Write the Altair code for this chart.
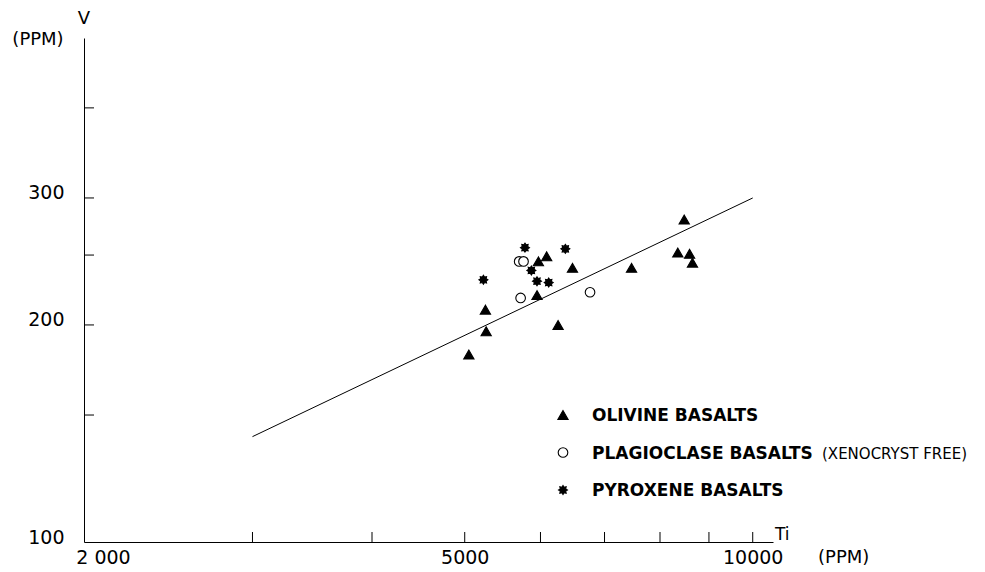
import math
import altair as alt
import pandas as pd

# ---------------- data ----------------
types = ["OLIVINE BASALTS", "PLAGIOCLASE BASALTS", "PYROXENE BASALTS"]
note_text = "(XENOCRYST FREE)"

ti_olivine = [8480, 6090, 5970, 6480, 7470, 8350, 8590, 8650, 5950, 5255, 5265, 6260, 5050]
v_olivine = [280, 249, 245, 240, 240, 252, 251, 244, 220, 210, 196, 200, 182]

ti_plag = [5700, 5760, 5720, 6760]
v_plag = [245, 245, 218, 222]

ti_pyx = [5780, 6370, 5870, 5950, 6120, 5230]
v_pyx = [256, 255, 238, 230, 229, 231]

line_ti = [3000, 10000]
line_v = [140, 300]

x_tick_values = [3000, 4000, 5000, 6000, 7000, 8000, 9000, 10000]
y_tick_values = [150, 200, 250, 300, 400]
x_label_values = [2000, 5000, 10000]
y_label_values = [100, 200, 300]

x_name = "Ti"
y_name = "V"
unit = "(PPM)"

# ---------------- tables ----------------
rows = []
for t, v in zip(ti_olivine, v_olivine):
    rows.append({"ti": t, "v": v, "type": types[0]})
for t, v in zip(ti_plag, v_plag):
    rows.append({"ti": t, "v": v, "type": types[1]})
for t, v in zip(ti_pyx, v_pyx):
    rows.append({"ti": t, "v": v, "type": types[2]})
pts = pd.DataFrame(rows)
line_df = pd.DataFrame({"ti": line_ti, "v": line_v})
xt_df = pd.DataFrame({"ti": x_tick_values})
yt_df = pd.DataFrame({"v": y_tick_values})
leg_df = pd.DataFrame({"type": types})
note_df = pd.DataFrame({"type": [types[1]], "note": [note_text]})

# 8-pointed star symbol path
star_pts = []
for i in range(16):
    a = i * math.pi / 8 - math.pi / 2
    r = 1.0 if i % 2 == 0 else 0.66
    star_pts.append(f"{r*math.cos(a):.3f},{r*math.sin(a):.3f}")
star_path = "M" + " L".join(star_pts) + " Z"

W, H = 689, 504
NUM_FONT = "DejaVu Sans"

xs = alt.Scale(type="log", domain=[2000, 10500], nice=False, zero=False)
ys = alt.Scale(type="log", domain=[100, 500], nice=False, zero=False)

x_axis = alt.Axis(
    values=x_label_values, title=None, grid=False, ticks=False, tickSize=0,
    domainColor="black", domainWidth=1, labelFont=NUM_FONT, labelFontSize=19,
    labelColor="black", labelPadding=6, labelFlush=False, labelOverlap=False,
    labelExpr="datum.value == 2000 ? '2 000' : format(datum.value, 'd')",
    labelOffset={"condition": {"test": "datum.value == 2000", "value": 19}, "value": 0},
)
y_axis = alt.Axis(
    values=y_label_values, title=None, grid=False, ticks=False, tickSize=0,
    domainColor="black", domainWidth=1, labelFont=NUM_FONT, labelFontSize=19,
    labelColor="black", labelPadding=20, labelFlush=False, labelOverlap=False,
    format="d", labelOffset=-5,
)

X = lambda: alt.X("ti:Q", scale=xs, axis=x_axis)
Y = lambda: alt.Y("v:Q", scale=ys, axis=y_axis)

shape_enc = lambda: alt.Shape("type:N", scale=alt.Scale(domain=types, range=["triangle-up", "circle", star_path]), legend=None)
fill_enc = lambda: alt.Fill("type:N", scale=alt.Scale(domain=types, range=["black", "white", "black"]), legend=None)
size_enc = lambda: alt.Size("type:N", scale=alt.Scale(domain=types, range=[105, 80, 300]), legend=None)

points = alt.Chart(pts).mark_point(filled=True, opacity=1, strokeWidth=1.1, stroke="black").encode(
    x=X(), y=Y(), shape=shape_enc(), fill=fill_enc(), size=size_enc(),
)

fit_line = alt.Chart(line_df).mark_line(color="black", strokeWidth=1).encode(x=X(), y=Y())

x_ticks = alt.Chart(xt_df).mark_rule(color="black", strokeWidth=1).encode(
    x=X(), y=alt.value(H), y2=alt.value(H - 10)
)
y_ticks = alt.Chart(yt_df).mark_rule(color="black", strokeWidth=1).encode(
    y=Y(), x=alt.value(0), x2=alt.value(10)
)

def label(text, x, y, size, align="left", weight="normal"):
    return alt.Chart(pd.DataFrame({"t": [text]})).mark_text(
        font=NUM_FONT, fontSize=size, fontWeight=weight, color="black",
        align=align, baseline="middle",
    ).encode(text="t:N", x=alt.value(x), y=alt.value(y))

texts = [
    label(y_name, 0, -19, 18, "center"),
    label(unit, -46, 2, 18, "center"),
    label(x_name, 691, 497, 17, "left"),
    label(unit, 734, 520, 18, "left"),
]

main = alt.layer(fit_line, x_ticks, y_ticks, points, *texts)

# ---- legend (point scale for rows) ----
ly = lambda: alt.Y("type:N", scale=alt.Scale(type="point", domain=types, range=[377, 452], padding=0), axis=None)
leg_sym = alt.Chart(leg_df).mark_point(filled=True, opacity=1, strokeWidth=1.1, stroke="black").encode(
    x=alt.value(479), y=ly(), shape=shape_enc(), fill=fill_enc(), size=size_enc(),
)
leg_txt = alt.Chart(leg_df).mark_text(
    font=NUM_FONT, fontSize=17, fontWeight="bold", color="black", align="left", baseline="middle", dy=1,
).encode(x=alt.value(508), y=ly(), text="type:N")
leg_note = alt.Chart(note_df).mark_text(
    font=NUM_FONT, fontSize=15, color="black", align="left", baseline="middle", dy=1,
).encode(x=alt.value(738), y=ly(), text="note:N")
leg = alt.layer(leg_sym, leg_txt, leg_note)

chart = alt.layer(main, leg).resolve_scale(y="independent").properties(
    width=W, height=H,
    autosize=alt.AutoSizeParams(type="none"),
    padding={"left": 84, "top": 38, "right": 212, "bottom": 30},
).configure(background="white").configure_view(stroke=None)

chart.save("out.html", embed_options={"renderer": "svg", "actions": False})
